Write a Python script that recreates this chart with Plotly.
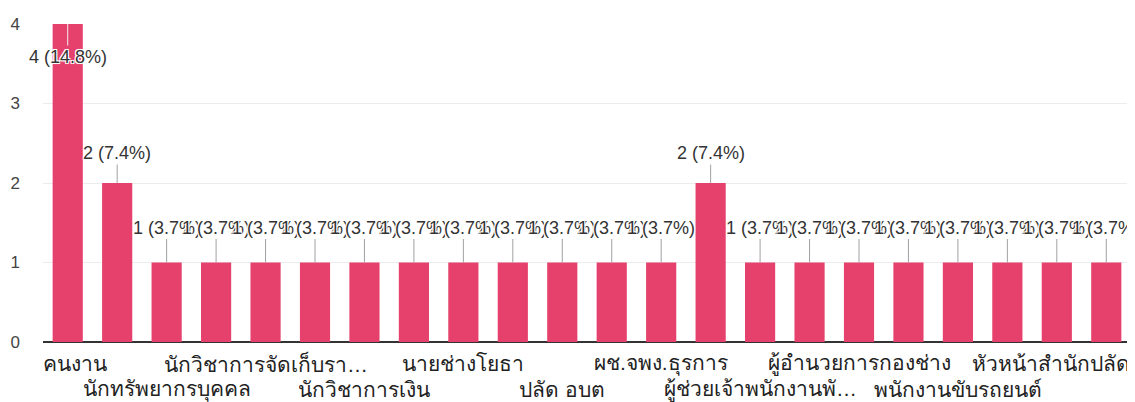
import plotly.graph_objects as go

categories = [
    "คนงาน", "ครูผู้ดูแลเด็ก", "นักทรัพยากรบุคคล", "นักพัฒนาชุมชน",
    "นักวิชาการจัดเก็บรายได้", "นักวิชาการตรวจสอบภายใน", "นักวิชาการเงิน",
    "นักวิเคราะห์นโยบายและแผน", "นายช่างโยธา", "นิติกร", "ปลัด อบต",
    "ผช.จพง.การเงินและบัญชี", "ผช.จพง.ธุรการ", "ผู้ช่วยเจ้าพนักงานธุรการ",
    "ผู้ช่วยเจ้าพนักงานพัสดุ", "ผู้อำนวยการกองคลัง", "ผู้อำนวยการกองช่าง",
    "ผู้อำนวยการกองสาธารณสุข", "พนักงานขับรถยนต์", "พนักงานจ้างทั่วไป",
    "หัวหน้าสำนักปลัด", "เจ้าพนักงานธุรการ",
]
values = [4, 2, 1, 1, 1, 1, 1, 1, 1, 1, 1, 1, 1, 2, 1, 1, 1, 1, 1, 1, 1, 1]
# Axis labels as displayed (every other category, Google-style truncation)
shown_labels = {
    0: "คนงาน", 2: "นักทรัพยากรบุคคล", 4: "นักวิชาการจัดเก็บรา…",
    6: "นักวิชาการเงิน", 8: "นายช่างโยธา", 10: "ปลัด อบต",
    12: "ผช.จพง.ธุรการ", 14: "ผู้ช่วยเจ้าพนักงานพั…", 16: "ผู้อำนวยการกองช่าง",
    18: "พนักงานขับรถยนต์", 20: "หัวหน้าสำนักปลัด",
}
y_ticks = [0, 1, 2, 3, 4]

total = sum(values)
bar_color = "#E6416C"
font_fam = "Liberation Sans, Arial, Noto Sans, sans-serif"
halo = "-1px -1px 0 #fff, 1px -1px 0 #fff, -1px 1px 0 #fff, 1px 1px 0 #fff, 0 0 2px #fff"

fig = go.Figure(go.Bar(
    x=categories, y=values, marker=dict(color=bar_color, line=dict(width=0)),
    hoverinfo="skip",
))

annotations = []
ymax = max(values)
for c, v in zip(categories, values):
    pct = 100.0 * v / total
    txt = f"{v} ({pct:.1f}%)"
    ay = 33 if v == ymax else (-30 if v == 2 else -35)
    annotations.append(dict(
        x=c, y=v, xref="x", yref="y", text=txt, showarrow=True,
        arrowhead=0, arrowwidth=1,
        arrowcolor="#f0f0f0" if v == ymax else "#a0a0a0",
        ax=0, ay=ay, standoff=0, startstandoff=0,
        font=dict(family=font_fam, size=18, color="#333333", shadow=halo),
    ))

n = len(categories)
for i, lab in shown_labels.items():
    row = (i // 2) % 2
    annotations.append(dict(
        x=categories[i], y=0, xref="x", yref="paper", text=lab,
        showarrow=False, yanchor="middle", xanchor="center",
        xshift=7 if i == 0 else (-6 if i == n - 2 else 0),
        yshift=-21 if row == 0 else -47,
        font=dict(family=font_fam, size=21, color="#222222"),
    ))

fig.update_layout(
    width=1135, height=402,
    margin=dict(l=35, r=12, t=16, b=68),
    paper_bgcolor="white", plot_bgcolor="white",
    bargap=0.39, showlegend=False,
    annotations=annotations,
    xaxis=dict(showticklabels=False, showgrid=False, zeroline=False,
               showline=False, ticks="", automargin=False,
               range=[-0.5, n - 0.5], autorange=False),
    yaxis=dict(range=[0, 4], tickvals=y_ticks, showgrid=True,
               gridcolor="#ececec", gridwidth=1, zeroline=True,
               zerolinecolor="#333333", zerolinewidth=2, showline=False,
               ticklabelstandoff=22, automargin=False, autorange=False,
               tickfont=dict(family=font_fam, size=17, color="#444444")),
)

fig.write_html("out.html")
